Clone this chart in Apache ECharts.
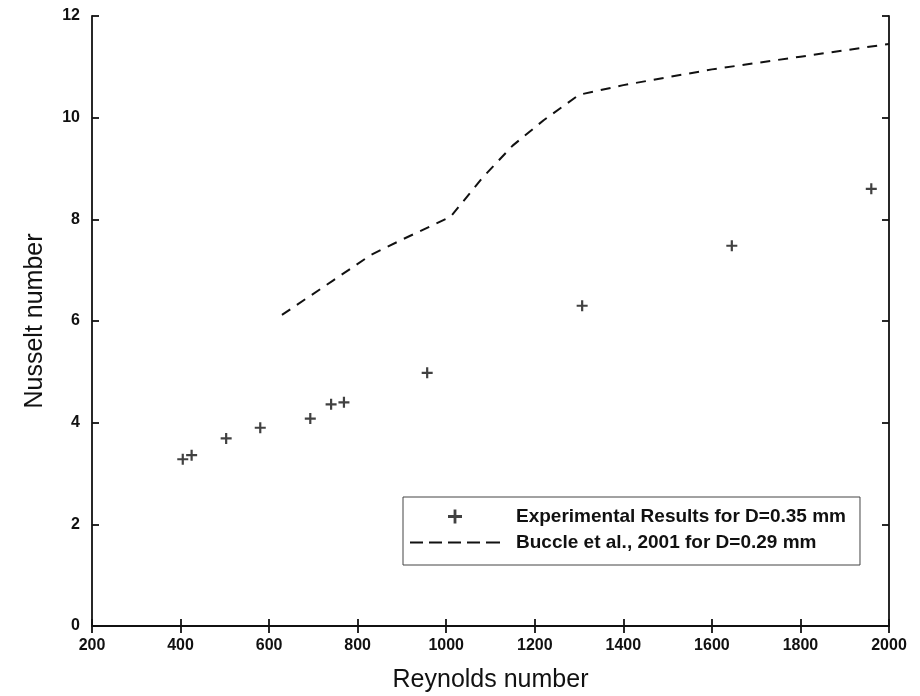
<!DOCTYPE html>
<html>
<head>
<meta charset="utf-8">
<script src="https://cdn.jsdelivr.net/npm/echarts@6/dist/echarts.min.js"></script>
<style>html,body{margin:0;padding:0;background:#fff;}#c{width:920px;height:696px;}</style>
</head>
<body>
<div id="c"></div>
<script>
// Experimental results (Reynolds, Nusselt)
var expRe = [405, 425, 503, 580, 693, 740, 769, 957, 1307, 1645, 1960];
var expNu = [3.28, 3.36, 3.69, 3.90, 4.08, 4.36, 4.40, 4.98, 6.30, 7.48, 8.60];
// Buccle et al., 2001 correlation curve
var bucRe = [629, 745, 830, 900, 1010, 1080, 1150, 1220, 1300, 1400, 1600, 1800, 2000];
var bucNu = [6.12, 6.80, 7.30, 7.60, 8.05, 8.80, 9.45, 9.95, 10.45, 10.64, 10.95, 11.20, 11.45];
var xTicks = [200, 400, 600, 800, 1000, 1200, 1400, 1600, 1800, 2000];
var yTicks = [0, 2, 4, 6, 8, 10, 12];
var seriesNames = ['Experimental Results for D=0.35 mm', 'Buccle et al., 2001 for D=0.29 mm'];

var expData = expRe.map(function (r, i) { return [r, expNu[i]]; });
var bucData = bucRe.map(function (r, i) { return [r, bucNu[i]]; });
var plus = 'path://M4,0h2v4h4v2h-4v4h-2v-4h-4v-2h4z';
var dashIcon = 'path://M0,0h13v2h-13z M19,0h13v2h-13z M38,0h13v2h-13z M57,0h13v2h-13z M76,0h14v2h-14z';
var font = 'Liberation Sans, Arial, sans-serif';

function axisCommon() {
  return {
    axisLine: { show: true, lineStyle: { color: '#111', width: 1.8 } },
    axisTick: { show: true, inside: true, length: 7, lineStyle: { color: '#111', width: 1.8 } },
    splitLine: { show: false },
    axisLabel: { show: false }
  };
}
function labelStyle(margin) {
  return { show: true, color: '#111', fontFamily: font, fontWeight: 'bold', fontSize: 16, margin: margin,
    formatter: function (v) { return String(v); } };
}

var chart = echarts.init(document.getElementById('c'), null, { renderer: 'canvas' });
var xMin = xTicks[0], xMax = xTicks[xTicks.length - 1];
var yMin = yTicks[0], yMax = yTicks[yTicks.length - 1];
var option = {
  backgroundColor: '#fff',
  animation: false,
  grid: { left: 92, right: 31, top: 16, bottom: 70, containLabel: false, outerBoundsMode: 'none' },
  xAxis: [
    Object.assign({ type: 'value', min: xMin, max: xMax, interval: 200, position: 'bottom',
      name: 'Reynolds number', nameLocation: 'middle', nameGap: 42,
      nameTextStyle: { color: '#111', fontFamily: font, fontSize: 25 } }, axisCommon(),
      { axisLabel: labelStyle(12) }),
    Object.assign({ type: 'value', min: xMin, max: xMax, interval: 200, position: 'top' }, axisCommon())
  ],
  yAxis: [
    Object.assign({ type: 'value', min: yMin, max: yMax, interval: 2, position: 'left',
      name: 'Nusselt number', nameLocation: 'middle', nameGap: 44,
      nameTextStyle: { color: '#111', fontFamily: font, fontSize: 25 } }, axisCommon(),
      { axisLabel: labelStyle(12) }),
    Object.assign({ type: 'value', min: yMin, max: yMax, interval: 2, position: 'right' }, axisCommon())
  ],
  legend: {
    show: true,
    left: 403,
    top: 497,
    orient: 'vertical',
    itemWidth: 90,
    itemHeight: 14,
    itemGap: 7,
    symbolKeepAspect: true,
    padding: [10, 14, 13, 7],
    borderColor: '#444',
    borderWidth: 1,
    borderRadius: 0,
    backgroundColor: '#fff',
    textStyle: { color: '#111', fontFamily: font, fontWeight: 'bold', fontSize: 19, padding: [0, 0, 0, 11] },
    data: [
      { name: seriesNames[0], icon: plus, itemStyle: { color: '#111' } },
      { name: seriesNames[1], icon: dashIcon, itemStyle: { color: '#111' } }
    ]
  },
  series: [
    {
      name: seriesNames[0], type: 'scatter', xAxisIndex: 0, yAxisIndex: 0,
      symbol: plus, symbolSize: 11,
      itemStyle: { color: '#111' },
      data: expData
    },
    {
      name: seriesNames[1], type: 'line', xAxisIndex: 0, yAxisIndex: 0,
      symbol: 'none', showSymbol: false, smooth: false,
      lineStyle: { color: '#111', width: 2, type: [10, 8] },
      itemStyle: { color: '#111' },
      data: bucData
    }
  ]
};
chart.setOption(option);
</script>
</body>
</html>
